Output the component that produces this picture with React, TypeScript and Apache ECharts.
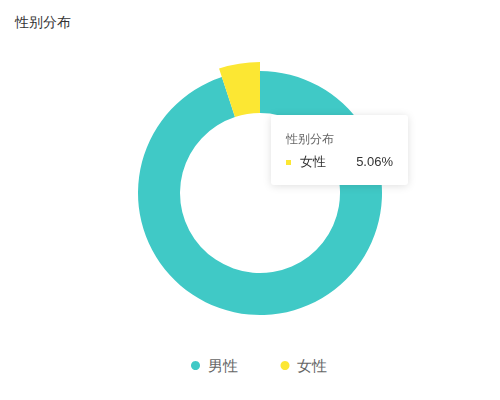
import React, { useEffect, useRef } from 'react';
import * as echarts from 'echarts';

// 性别分布 data
const chartTitle = '性别分布';
const genders = ['男性', '女性'];
const shares = [94.94, 5.06];
const colors = ['#40C9C6', '#FCE733'];

export default function App() {
  const chartRef = useRef<HTMLDivElement>(null);

  useEffect(() => {
    if (!chartRef.current) return;
    const chart = echarts.init(chartRef.current, null, { renderer: 'svg' });

    const option: echarts.EChartsOption = {
      animation: false,
      title: {
        text: chartTitle,
        left: 2,
        top: 2,
        textStyle: {
          fontSize: 14,
          fontWeight: 'normal',
          color: '#333'
        }
      },
      color: colors,
      tooltip: {
        trigger: 'item',
        triggerOn: 'none',
        alwaysShowContent: true,
        position: [263, 107],
        backgroundColor: '#fff',
        borderWidth: 0,
        padding: [15, 15, 13, 15],
        extraCssText: 'box-shadow: 0 1px 8px rgba(0,0,0,0.13); border-radius: 3px; width: 107px;',
        formatter: (params: any) => {
          return `<div style="color:#666;font-size:12px;line-height:18px;">${chartTitle}</div>` +
            `<div style="margin-top:4px;font-size:13px;color:#333;line-height:20px;">` +
            `<span style="display:inline-block;width:5px;height:5px;background:${params.color};margin-right:9px;vertical-align:middle;"></span>` +
            `<span>${params.name}</span>` +
            `<span style="float:right;">${params.percent.toFixed(2)}%</span></div>`;
        }
      },
      legend: {
        data: genders,
        left: 178,
        bottom: 30,
        icon: 'circle',
        itemWidth: 14,
        itemHeight: 9,
        itemGap: 43,
        textStyle: {
          fontSize: 15,
          color: '#666'
        }
      },
      series: [
        {
          name: chartTitle,
          type: 'pie',
          radius: ['40%', '61%'],
          center: ['50.4%', '46.25%'],
          startAngle: 90,
          label: { show: false },
          labelLine: { show: false },
          emphasis: {
            scale: true,
            scaleSize: 9
          },
          data: genders.map((g, i) => ({
            name: g,
            value: shares[i],
            emphasis: { itemStyle: { color: colors[i] } }
          }))
        }
      ]
    };

    chart.setOption(option);
    chart.dispatchAction({ type: 'highlight', seriesIndex: 0, dataIndex: 1 });
    chart.dispatchAction({ type: 'showTip', seriesIndex: 0, dataIndex: 1 });

    return () => {
      chart.dispose();
    };
  }, []);

  return (
    <div
      ref={chartRef}
      style={{ position: 'fixed', left: 0, top: 0, width: 500, height: 400, background: '#fff' }}
    />
  );
}
